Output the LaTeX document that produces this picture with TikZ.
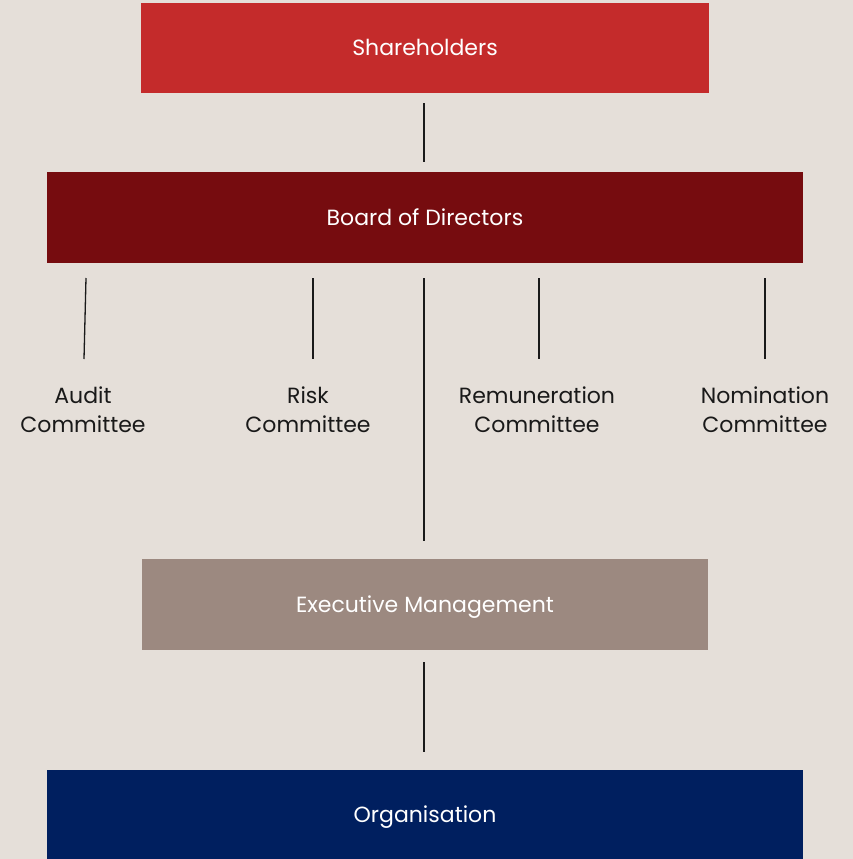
\documentclass[tikz,border=0pt]{standalone}
\usepackage{fontspec}
\setmainfont{Poppins}[Ligatures=NoCommon]
\definecolor{bgcol}{HTML}{E5DFD9}
\definecolor{shcol}{HTML}{C42B2B}
\definecolor{bdcol}{HTML}{760C0F}
\definecolor{excol}{HTML}{9C8980}
\definecolor{orcol}{HTML}{001F5F}
\definecolor{linecol}{HTML}{1A1A1A}
\begin{document}
\begin{tikzpicture}[x=1pt,y=-1pt,
  bar/.style={rectangle, inner sep=0pt, text=white, text height=15.5pt, text depth=0pt,
    font=\fontsize{22}{26}\selectfont},
  committee/.style={align=center, text=black!90, inner sep=0pt, font=\fontsize{22}{29}\selectfont},
  link/.style={draw=linecol, line width=1.3pt}]
  % background and page size
  \fill[bgcol] (0,0) rectangle (853,859);
  \useasboundingbox (0,0) rectangle (853,859);

  % main bars
  \node[bar, fill=shcol, minimum width=568pt, minimum height=90pt] (sh) at (425,48) {Shareholders};
  \node[bar, fill=bdcol, minimum width=756pt, minimum height=91pt] (bd) at (425,217.5) {Board of Directors};
  \node[bar, fill=excol, minimum width=566pt, minimum height=91pt] (ex) at (425,604.5) {Executive Management};
  \node[bar, fill=orcol, minimum width=756pt, minimum height=89pt] (or) at (425,814.5) {Organisation};

  % committees
  \node[committee] (audit) at (83,410) {Audit\\Committee};
  \node[committee] (risk) at (308,410) {Risk\\Committee};
  \node[committee] (remu) at (537,410) {Remuneration\\Committee};
  \node[committee] (nomi) at (765,410) {Nomination\\Committee};

  % free ends of the connectors
  \coordinate (shb) at (424,103);
  \coordinate (bdt) at (424,162);
  \coordinate (a1) at (86,278);  \coordinate (a2) at (84,359);
  \coordinate (r1) at (313,278); \coordinate (r2) at (313,359);
  \coordinate (c1) at (424,278); \coordinate (c2) at (424,541);
  \coordinate (m1) at (539,278); \coordinate (m2) at (539,359);
  \coordinate (n1) at (765,278); \coordinate (n2) at (765,359);
  \coordinate (exb) at (424,662); \coordinate (ort) at (424,752);

  % connectors
  \draw[link] (shb) -- (bdt);
  \draw[link] (a1) -- (a2);
  \draw[link] (r1) -- (r2);
  \draw[link] (c1) -- (c2);
  \draw[link] (m1) -- (m2);
  \draw[link] (n1) -- (n2);
  \draw[link] (exb) -- (ort);
\end{tikzpicture}
\end{document}
